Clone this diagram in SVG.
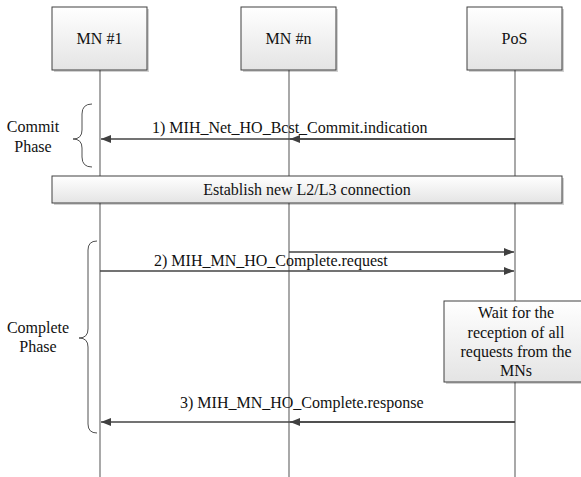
<svg xmlns="http://www.w3.org/2000/svg" width="581" height="477" viewBox="0 0 581 477">
  <defs>
    <linearGradient id="boxFill" x1="0" y1="0" x2="0" y2="1">
      <stop offset="0" stop-color="#ffffff"/>
      <stop offset="1" stop-color="#e4e4e4"/>
    </linearGradient>
    <marker id="head" viewBox="0 0 10 8" refX="10" refY="4" markerWidth="10" markerHeight="8" markerUnits="userSpaceOnUse" orient="auto">
      <path d="M0,0 L10,4 L0,8 Z" fill="#404040"/>
    </marker>
  </defs>
  <style>
    text { font-family: "Liberation Serif", "Tinos", "Times New Roman", Times, "DejaVu Serif", serif; font-size: 16px; fill: #111; }
    .box { fill: url(#boxFill); stroke: #404040; stroke-width: 1; }
    .shadow { fill: #000; opacity: 0.18; }
    .life { stroke: #7a7a7a; stroke-width: 1.3; fill: none; }
    .msg { stroke: #454545; stroke-width: 1.5; fill: none; marker-end: url(#head); }
    .brace { stroke: #505050; stroke-width: 1; fill: none; }
    .mid { text-anchor: middle; }
  </style>
  <rect width="581" height="477" fill="#ffffff"/>

  <!-- lifelines -->
  <g id="lifelines">
    <line class="life" x1="100" y1="70" x2="100" y2="477"/>
    <line class="life" x1="289" y1="70" x2="289" y2="477"/>
    <line class="life" x1="515" y1="70" x2="515" y2="477"/>
  </g>

  <!-- participants -->
  <g id="mn1">
    <rect class="shadow" x="54" y="9" width="95" height="63"/>
    <rect class="box" x="52" y="7" width="95" height="63"/>
    <text class="mid" x="99.5" y="44">MN #1</text>
  </g>
  <g id="mnn">
    <rect class="shadow" x="243" y="9" width="95" height="63"/>
    <rect class="box" x="241" y="7" width="95" height="63"/>
    <text class="mid" x="288.5" y="44">MN #n</text>
  </g>
  <g id="pos">
    <rect class="shadow" x="469" y="9" width="95" height="63"/>
    <rect class="box" x="467" y="7" width="95" height="63"/>
    <text class="mid" x="514.5" y="44">PoS</text>
  </g>

  <!-- phase braces -->
  <g id="commit-phase">
    <path class="brace" d="M92,104 Q82,104 82,114 L82,130 Q82,139 73,139 Q82,139 82,148 L82,157 Q82,167 92,167"/>
    <text class="mid" x="33" y="132">Commit</text>
    <text class="mid" x="33" y="152">Phase</text>
  </g>
  <g id="complete-phase">
    <path class="brace" d="M97,241 Q88,241 88,250 L88,329 Q88,338 79,338 Q88,338 88,347 L88,424 Q88,433 97,433"/>
    <text class="mid" x="38" y="333">Complete</text>
    <text class="mid" x="38" y="352">Phase</text>
  </g>

  <!-- establish connection bar -->
  <g id="establish">
    <rect class="shadow" x="54" y="178" width="510" height="27"/>
    <rect class="box" x="52" y="176" width="510" height="27"/>
    <text class="mid" x="307" y="195">Establish new L2/L3 connection</text>
  </g>

  <!-- PoS wait box -->
  <g id="wait">
    <rect class="shadow" x="446" y="303" width="146" height="81"/>
    <rect class="box" x="444" y="301" width="146" height="81"/>
    <text class="mid" x="516" y="318">Wait for the</text>
    <text class="mid" x="516" y="338">reception of all</text>
    <text class="mid" x="516" y="357">requests from the</text>
    <text class="mid" x="516" y="376">MNs</text>
  </g>

  <!-- messages -->
  <g id="connectors">
    <line class="msg" x1="515" y1="139" x2="101" y2="139"/>
    <line class="msg" x1="515" y1="139" x2="290" y2="139"/>
    <line class="msg" x1="289" y1="252" x2="514" y2="252"/>
    <line class="msg" x1="100" y1="271" x2="514" y2="271"/>
    <line class="msg" x1="515" y1="422" x2="101" y2="422"/>
    <line class="msg" x1="515" y1="422" x2="290" y2="422"/>
  </g>

  <g id="labels">
    <text x="152" y="133">1) MIH_Net_HO_Bcst_Commit.indication</text>
    <text x="154" y="266">2) MIH_MN_HO_Complete.request</text>
    <text x="180" y="408">3) MIH_MN_HO_Complete.response</text>
  </g>
</svg>
